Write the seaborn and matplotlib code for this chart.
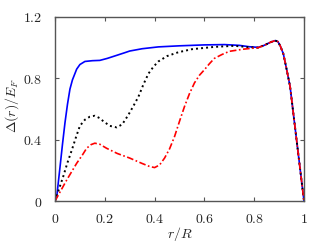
import numpy as np
import pandas as pd
import matplotlib
matplotlib.use("Agg")
import matplotlib.pyplot as plt
import seaborn as sns

# values
r_tail = [0.84, 0.865, 0.884, 0.895, 0.905, 0.917, 0.93, 0.944, 0.955, 0.97, 0.985, 1.0]
d_tail = [1.015, 1.035, 1.046, 1.04, 1.01, 0.96, 0.86, 0.747, 0.60, 0.40, 0.20, 0.0]

r_blue = [0.0, 0.007, 0.02, 0.03, 0.04, 0.05, 0.06, 0.07, 0.087, 0.10, 0.12, 0.15, 0.18, 0.21, 0.248, 0.28, 0.30, 0.35, 0.415, 0.5, 0.6, 0.68, 0.74, 0.78, 0.816] + r_tail
d_blue = [0.0, 0.03, 0.22, 0.37, 0.51, 0.63, 0.73, 0.79, 0.86, 0.89, 0.91, 0.915, 0.917, 0.93, 0.95, 0.967, 0.978, 0.993, 1.005, 1.012, 1.018, 1.02, 1.015, 1.006, 1.002] + d_tail

r_black = [0.0, 0.033, 0.05, 0.067, 0.085, 0.10, 0.12, 0.14, 0.16, 0.18, 0.194, 0.22, 0.248, 0.27, 0.294, 0.315, 0.335, 0.355, 0.375, 0.395, 0.415, 0.45, 0.495, 0.55, 0.64, 0.72, 0.78, 0.816] + r_tail
d_black = [0.0, 0.16, 0.25, 0.33, 0.42, 0.49, 0.53, 0.55, 0.556, 0.54, 0.52, 0.49, 0.48, 0.50, 0.56, 0.62, 0.68, 0.76, 0.83, 0.875, 0.91, 0.945, 0.97, 0.99, 1.005, 1.012, 1.003, 1.0] + d_tail

r_red = [0.0, 0.047, 0.087, 0.11, 0.127, 0.145, 0.16, 0.18, 0.207, 0.25, 0.30, 0.348, 0.38, 0.40, 0.42, 0.44, 0.46, 0.48, 0.50, 0.52, 0.54, 0.56, 0.58, 0.60, 0.62, 0.64, 0.67, 0.70, 0.756, 0.816] + r_tail
d_red = [0.0, 0.137, 0.246, 0.30, 0.344, 0.368, 0.377, 0.37, 0.344, 0.31, 0.28, 0.246, 0.225, 0.218, 0.235, 0.28, 0.34, 0.42, 0.52, 0.616, 0.70, 0.77, 0.82, 0.856, 0.895, 0.93, 0.955, 0.976, 0.99, 1.0] + d_tail

x_ticks = [0, 0.2, 0.4, 0.6, 0.8, 1]
y_ticks = [0, 0.4, 0.8, 1.2]

sns.set_style('ticks')
plt.rcParams['mathtext.fontset'] = 'cm'
plt.rcParams['font.family'] = ['DejaVu Serif']

fig = plt.figure(figsize=(3.32, 2.42), dpi=100)
ax = fig.add_axes([0.1657, 0.1694, 0.75, 0.7604])

sns.lineplot(x=r_blue, y=d_blue, ax=ax, color='#0000ff', lw=1.2, linestyle='-')
sns.lineplot(x=r_black, y=d_black, ax=ax, color='black', lw=1.4, linestyle=(0, (1, 1.6)))
sns.lineplot(x=r_red, y=d_red, ax=ax, color='#ff0000', lw=1.2, linestyle=(0, (4, 1.5, 1, 1.5)))

ax.set_xlim(0, 1)
ax.set_ylim(0, 1.2)
ax.set_xticks(x_ticks)
ax.set_yticks(y_ticks)
ax.set_xticklabels(['$%g$' % t for t in x_ticks], fontsize=10)
ax.set_yticklabels(['$%g$' % t for t in y_ticks], fontsize=10)
ax.tick_params(direction='in', length=3, width=0.8, color='#555555',
               top=True, right=True, labelbottom=True, labelleft=True)
ax.tick_params(axis='x', pad=8)
ax.tick_params(axis='y', pad=9)
for s in ax.spines.values():
    s.set_color('#555555')
    s.set_linewidth(1.0)
ax.set_xlabel(r'$r/R$', fontsize=10)
ax.set_ylabel(r'$\Delta(r)/E_F$', fontsize=10)
ax.xaxis.set_label_coords(0.5, -0.128)
ax.yaxis.set_label_coords(-0.135, 0.52)

plt.savefig('out.png', dpi=100)
